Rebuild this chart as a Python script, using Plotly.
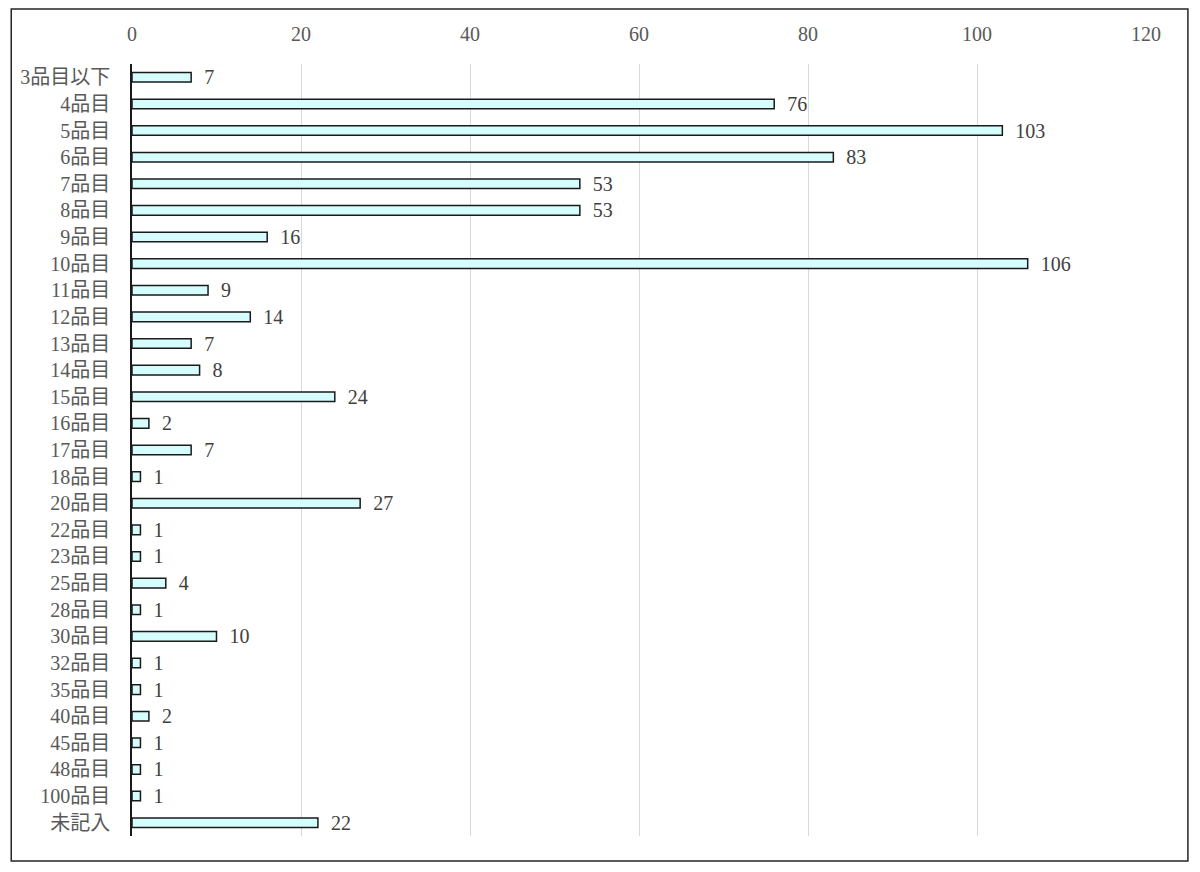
import plotly.graph_objects as go

categories = ["3品目以下", "4品目", "5品目", "6品目", "7品目", "8品目", "9品目", "10品目",
              "11品目", "12品目", "13品目", "14品目", "15品目", "16品目", "17品目", "18品目",
              "20品目", "22品目", "23品目", "25品目", "28品目", "30品目", "32品目", "35品目",
              "40品目", "45品目", "48品目", "100品目", "未記入"]
values = [7, 76, 103, 83, 53, 53, 16, 106, 9, 14, 7, 8, 24, 2, 7, 1,
          27, 1, 1, 4, 1, 10, 1, 1, 2, 1, 1, 1, 22]
x_ticks = [0, 20, 40, 60, 80, 100, 120]

FONT = "Liberation Serif, DejaVu Serif, Noto Sans CJK JP, serif"

fig = go.Figure(go.Bar(
    y=categories, x=values, orientation="h",
    marker=dict(color="#d6fdfd", line=dict(color="#1a1a1a", width=1.5)),
    text=values, texttemplate="\u00a0\u00a0%{x}", textposition="outside",
    constraintext="none",
    textfont=dict(family=FONT, size=20, color="#404040"),
    cliponaxis=False,
))

# the page adds an 8px body margin; target screen positions minus 8
W, H = 1200, 872
L, R, T, B = 122, 62, 56, 44
pw, ph = W - L - R, H - T - B

fig.update_layout(
    width=W, height=H,
    margin=dict(l=L, r=R, t=T, b=B),
    paper_bgcolor="white", plot_bgcolor="white",
    bargap=0.64, showlegend=False,
    font=dict(family=FONT, size=20, color="#595959"),
    xaxis=dict(side="top", range=[0, 120], tickvals=x_ticks, showgrid=True,
               gridcolor="#d9d9d9", gridwidth=1.3, zeroline=False, showline=False,
               ticks="", ticklabelstandoff=18,
               tickfont=dict(family=FONT, size=20, color="#595959")),
    yaxis=dict(autorange="reversed", showline=True, linecolor="#1a1a1a", linewidth=1.5,
               ticks="", showgrid=False, ticklabelstandoff=16,
               tickfont=dict(family=FONT, size=20, color="#595959")),
    shapes=[dict(type="rect", xref="paper", yref="paper",
                 x0=(1 - L) / pw, x1=(1180 - L) / pw,
                 y0=(H - B - 853) / ph, y1=(H - B - 1) / ph,
                 line=dict(color="#262626", width=1.5), fillcolor="rgba(0,0,0,0)",
                 layer="below")],
)

fig.write_html("out.html")
